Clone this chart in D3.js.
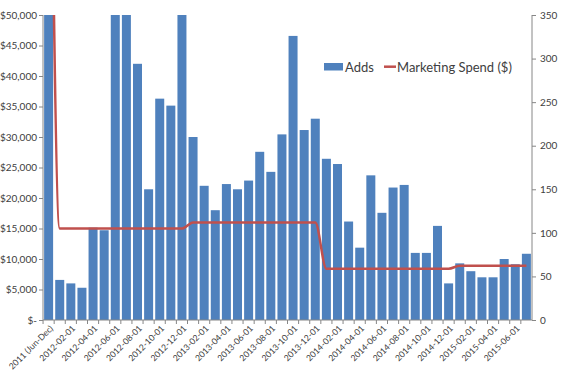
<!DOCTYPE html>
<html>
<head>
<meta charset="utf-8">
<script src="https://cdn.jsdelivr.net/npm/d3@7"></script>
<style>
  body { margin: 0; background: #fff; }
  text { font-family: Lato, "Open Sans", sans-serif; fill: #404040; }
</style>
</head>
<body>
<script>
// months shown on the x axis (first one is the 2011 roll-up)
var categories = ["2011 (Jun-Dec)",
    "2012-01-01", "2012-02-01", "2012-03-01", "2012-04-01", "2012-05-01", "2012-06-01",
    "2012-07-01", "2012-08-01", "2012-09-01", "2012-10-01", "2012-11-01", "2012-12-01",
    "2013-01-01", "2013-02-01", "2013-03-01", "2013-04-01", "2013-05-01", "2013-06-01",
    "2013-07-01", "2013-08-01", "2013-09-01", "2013-10-01", "2013-11-01", "2013-12-01",
    "2014-01-01", "2014-02-01", "2014-03-01", "2014-04-01", "2014-05-01", "2014-06-01",
    "2014-07-01", "2014-08-01", "2014-09-01", "2014-10-01", "2014-11-01", "2014-12-01",
    "2015-01-01", "2015-02-01", "2015-03-01", "2015-04-01", "2015-05-01", "2015-06-01",
    "2015-07-01"];

// Adds (right axis) - clipped bars are above 350
var adds = [600, 46, 42, 37, 106, 103, 380, 365, 294, 150, 254, 246,
    360, 210, 154, 126, 156, 150, 160, 193, 170, 213, 326, 218,
    231, 185, 179, 113, 83, 166, 123, 152, 155, 77, 77, 108,
    42, 65, 56, 49, 49, 70, 64, 76];

// Marketing Spend ($) (left axis)
var spend = [120000, 15000, 15000, 15000, 15000, 15000, 15000, 15000, 15000, 15000, 15000, 15000,
    15000, 16000, 16000, 16000, 16000, 16000, 16000, 16000, 16000, 16000, 16000, 16000,
    16000, 8400, 8400, 8400, 8400, 8400, 8400, 8400, 8400, 8400, 8400, 8400,
    8400, 8900, 8900, 8900, 8900, 8900, 8900, 8900];

var leftTicks = [0, 5000, 10000, 15000, 20000, 25000, 30000, 35000, 40000, 45000, 50000];
var rightTicks = [0, 50, 100, 150, 200, 250, 300, 350];

function drawChart() {
    var width = 567, height = 370;
    var plotLeft = 43, plotRight = 532, plotTop = 15, plotBottom = 320;

    var svg = d3.select("body").append("svg")
        .attr("width", width)
        .attr("height", height);

    var x = d3.scaleBand()
        .domain(categories)
        .range([plotLeft, plotRight])
        .paddingInner(0.19)
        .paddingOuter(0.1);

    var yLeft = d3.scaleLinear().domain([0, 50000]).range([plotBottom, plotTop]);
    var yRight = d3.scaleLinear().domain([0, 350]).range([plotBottom, plotTop]);

    svg.append("clipPath")
        .attr("id", "plot")
        .append("rect")
        .attr("x", plotLeft)
        .attr("y", plotTop)
        .attr("width", plotRight - plotLeft)
        .attr("height", plotBottom - plotTop);

    var plot = svg.append("g").attr("clip-path", "url(#plot)");

    plot.selectAll("rect.bar")
        .data(adds)
        .enter()
        .append("rect")
        .attr("class", "bar")
        .attr("x", function (d, i) { return x(categories[i]); })
        .attr("width", x.bandwidth())
        .attr("y", function (d) { return yRight(d); })
        .attr("height", function (d) { return plotBottom - yRight(d); })
        .attr("fill", "#4f81bd");

    var line = d3.line()
        .x(function (d, i) { return x(categories[i]) + x.bandwidth() / 2; })
        .y(function (d) { return yLeft(d); })
        .curve(d3.curveMonotoneX);

    plot.append("path")
        .datum(spend)
        .attr("d", line)
        .attr("fill", "none")
        .attr("stroke", "#c0504d")
        .attr("stroke-width", 2.5);

    // left axis
    var leftAxis = d3.axisLeft(yLeft)
        .tickValues(leftTicks)
        .tickSize(4)
        .tickFormat(function (d) { return d === 0 ? "$-" : d3.format("$,")(d); });

    var gl = svg.append("g")
        .attr("transform", "translate(" + plotLeft + ",0)")
        .call(leftAxis);

    // right axis
    var rightAxis = d3.axisRight(yRight)
        .tickValues(rightTicks)
        .tickSize(4);

    var gr = svg.append("g")
        .attr("transform", "translate(" + plotRight + ",0)")
        .call(rightAxis);

    // x axis: tick marks sit between categories, labels every other month
    var xAxis = d3.axisBottom(x)
        .tickSize(4)
        .tickFormat(function (d, i) { return i % 2 === 0 ? d : ""; });

    var gx = svg.append("g")
        .attr("transform", "translate(0," + plotBottom + ")")
        .call(xAxis);

    gx.selectAll(".tick line")
        .attr("transform", "translate(" + (-x.step() / 2) + ",0)");

    [gl, gr, gx].forEach(function (g) {
        g.attr("font-family", null);
        g.selectAll(".domain").attr("stroke", "#868686");
        g.selectAll(".tick line").attr("stroke", "#868686");
        g.selectAll("text").attr("font-size", 10).attr("fill", "#404040");
    });

    gx.selectAll(".tick text")
        .attr("text-anchor", "end")
        .attr("font-size", 8.6)
        .attr("dy", 0)
        .attr("y", 0)
        .attr("transform", "translate(5,9) rotate(-45)");

    gl.select(".domain").attr("d", "M0," + plotTop + "V" + plotBottom);
    gr.select(".domain").attr("d", "M0," + plotTop + "V" + plotBottom);
    gx.select(".domain").remove();
    gl.selectAll(".tick text").attr("x", -6);
    gr.selectAll(".tick text").attr("x", 8);

    // x baseline
    svg.append("line")
        .attr("x1", plotLeft).attr("x2", plotRight)
        .attr("y1", plotBottom).attr("y2", plotBottom)
        .attr("stroke", "#868686");

    // legend
    var legend = svg.append("g");
    legend.append("rect")
        .attr("x", 324).attr("y", 63)
        .attr("width", 19).attr("height", 7.5)
        .attr("fill", "#4f81bd");
    legend.append("text")
        .attr("x", 345).attr("y", 71.5)
        .attr("font-size", 13)
        .text("Adds");
    legend.append("line")
        .attr("x1", 384).attr("x2", 396)
        .attr("y1", 66.7).attr("y2", 66.7)
        .attr("stroke", "#c0504d")
        .attr("stroke-width", 2.5);
    legend.append("text")
        .attr("x", 397).attr("y", 71.5)
        .attr("font-size", 13)
        .text("Marketing Spend ($)");
}

drawChart();
</script>
</body>
</html>
